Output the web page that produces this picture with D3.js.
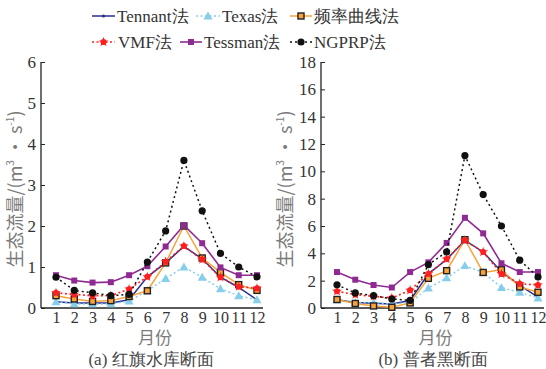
<!DOCTYPE html>
<html><head><meta charset="utf-8">
<script src="https://cdn.jsdelivr.net/npm/d3@7/dist/d3.min.js"></script>
<style>body{margin:0;background:#fff}svg{display:block}
.serif{font-family:"Liberation Serif","Times New Roman","DejaVu Serif",serif}
.sans{font-family:"Noto Sans CJK SC","Noto Sans",sans-serif}
</style>
</head><body>
<svg id="c" width="546" height="369"></svg>
<script>
const months = [1,2,3,4,5,6,7,8,9,10,11,12];
const seriesNames = ["Tennant法","Texas法","频率曲线法","VMF法","Tessman法","NGPRP法"];
// (a) 红旗水库断面
const aTennant = [0.15,0.12,0.12,0.12,0.2,0.76,1.1,1.5,1.2,0.75,0.5,0.2];
const aTexas   = [0.15,0.1,0.1,0.1,0.17,0.42,0.72,1.0,0.75,0.47,0.3,0.2];
const aFreq    = [0.3,0.22,0.16,0.18,0.28,0.42,1.1,2.0,1.22,0.87,0.57,0.43];
const aVMF     = [0.37,0.33,0.3,0.3,0.46,0.76,1.13,1.51,1.18,0.75,0.52,0.48];
const aTessman = [0.8,0.67,0.62,0.63,0.8,1.02,1.5,2.02,1.58,0.99,0.8,0.8];
const aNGPRP   = [0.75,0.43,0.37,0.3,0.33,1.12,1.88,3.6,2.37,1.33,1.0,0.76];
// (b) 普者黑断面
const bTennant = [0.6,0.4,0.35,0.3,0.55,2.5,3.55,4.95,4.1,2.65,1.65,0.8];
const bTexas   = [0.6,0.4,0.4,0.3,0.4,1.46,2.2,3.1,2.6,1.49,1.15,0.73];
const bFreq    = [0.62,0.33,0.15,0.05,0.37,2.17,2.73,5.0,2.6,2.8,1.54,1.15];
const bVMF     = [1.22,0.98,0.85,0.73,1.3,2.5,3.58,4.95,4.1,2.49,1.78,1.68];
const bTessman = [2.63,2.07,1.68,1.5,2.63,3.34,4.76,6.6,5.46,3.27,2.63,2.63];
const bNGPRP   = [1.7,1.1,0.9,0.66,0.56,3.17,4.1,11.15,8.3,6.0,3.5,2.27];
const aTicks = [0,1,2,3,4,5,6];
const bTicks = [0,2,4,6,8,10,12,14,16,18];
const xTickLabels = ["1","2","3","4","5","6","7","8","9","10","11","12"];

const styles = [
  {color:"#2b2f8f", dash:null, marker:"dot", width:1.5},
  {color:"#87ceeb", dash:"2,2.5", marker:"tri", width:1.5},
  {color:"#f8a23a", dash:null, marker:"sq", width:1.5},
  {color:"#ff1f1f", dash:"2,2.5", marker:"vmf", width:1.6},
  {color:"#8e2a92", dash:null, marker:"psq", width:1.6},
  {color:"#111111", dash:"2,3", marker:"circ", width:1.5}
];

const svg = d3.select("#c");

function drawMarker(g, type, x, y, color){
  if(type==="dot"){ g.append("circle").attr("cx",x).attr("cy",y).attr("r",1.6).attr("fill",color); }
  else if(type==="tri"){ g.append("path").attr("transform",`translate(${x},${y+0.8})`).attr("d",d3.symbol(d3.symbolTriangle,36)()).attr("fill",color); }
  else if(type==="sq"){ g.append("rect").attr("x",x-3).attr("y",y-3).attr("width",6).attr("height",6).attr("fill","#f8a23a").attr("stroke","#222").attr("stroke-width",1.4); }
  else if(type==="vmf"){ g.append("path").attr("transform",`translate(${x},${y})`).attr("d",d3.symbol(d3.symbolStar,30)()).attr("fill",color);
                         g.append("circle").attr("cx",x).attr("cy",y).attr("r",3).attr("fill",color); }
  else if(type==="psq"){ g.append("rect").attr("x",x-3).attr("y",y-3).attr("width",6).attr("height",6).attr("fill",color); }
  else if(type==="circ"){ g.append("circle").attr("cx",x).attr("cy",y).attr("r",3.6).attr("fill",color); }
}

function panel(opts){
  const {x0,xEnd,xFirst,xLast,yTop,yBot,yMax,ticks,data,ylabX,caption,capX} = opts;
  const x = d3.scaleLinear().domain([1,12]).range([xFirst,xLast]);
  const y = d3.scaleLinear().domain([0,yMax]).range([yBot,yTop]);
  const g = svg.append("g");
  const ya = g.append("g").attr("transform",`translate(${x0},0)`)
    .call(d3.axisLeft(y).tickValues(ticks).tickSize(-4).tickPadding(5).tickFormat(d3.format("d")));
  ya.select(".domain").attr("d",`M0,${yTop}V${yBot}`);
  const xa = g.append("g").attr("transform",`translate(0,${yBot})`)
    .call(d3.axisBottom(x).tickValues(months).tickSize(0).tickPadding(3).tickFormat((d,i)=>xTickLabels[i]));
  xa.select(".domain").attr("d",`M${x0},0H${xEnd}`);
  g.selectAll(".domain").attr("stroke","#222").attr("stroke-width",1.3);
  g.selectAll(".tick line").attr("stroke","#222");
  g.selectAll(".tick text").attr("class","serif").attr("font-family",null).style("font-size","17px").attr("fill","#333");
  xa.selectAll(".tick text").style("font-size","16px").attr("dy","0.72em");
  const line = d3.line().x((d,i)=>x(months[i])).y(d=>y(d));
  data.forEach((vals,si)=>{
    const st = styles[si];
    const sg = g.append("g");
    sg.append("path").attr("d",line(vals)).attr("fill","none").attr("stroke",st.color)
      .attr("stroke-width",st.width).attr("stroke-dasharray",st.dash);
    vals.forEach((v,i)=>drawMarker(sg, st.marker, x(months[i]), y(v), st.color));
  });
  const yl = g.append("text").attr("class","sans").attr("transform",`translate(${ylabX},${(yTop+yBot)/2+4}) rotate(-90)`)
    .attr("text-anchor","middle").style("font-size","18px").attr("fill","#7a7a7a")
    .attr("dominant-baseline","middle");
  yl.append("tspan").text("生态流量/(m");
  yl.append("tspan").style("font-size","10px").attr("baseline-shift","55%").text("3");
  yl.append("tspan").text(" · s");
  yl.append("tspan").style("font-size","10px").attr("baseline-shift","55%").text("-1");
  yl.append("tspan").text(")");
  g.append("text").attr("class","sans").attr("x",(x0+xEnd)/2+3).attr("y",344).attr("text-anchor","middle")
    .style("font-size","17px").attr("fill","#7a7a7a").text("月份");
  g.append("text").attr("class","serif").attr("x",capX).attr("y",365).attr("text-anchor","middle")
    .style("font-size","17px").attr("fill","#444").text(caption);
}

panel({x0:41,xEnd:263,xFirst:56,xLast:257,yTop:62,yBot:308,yMax:6,ticks:aTicks,
  data:[aTennant,aTexas,aFreq,aVMF,aTessman,aNGPRP],ylabX:17,caption:"(a) 红旗水库断面",capX:151});
panel({x0:321,xEnd:544,xFirst:337,xLast:538,yTop:62,yBot:308,yMax:18,ticks:bTicks,
  data:[bTennant,bTexas,bFreq,bVMF,bTessman,bNGPRP],ylabX:287,caption:"(b) 普者黑断面",capX:433});

const legendPos = [
  {lx:92,rx:115,tx:117,y:16},{lx:196,rx:220,tx:222,y:16},{lx:290,rx:312,tx:314,y:16},
  {lx:92,rx:115,tx:118,y:42},{lx:180,rx:202,tx:204,y:42},{lx:290,rx:312,tx:314,y:42}
];
const lg = svg.append("g");
seriesNames.forEach((name,i)=>{
  const p = legendPos[i], st = styles[i];
  lg.append("line").attr("x1",p.lx).attr("x2",p.rx).attr("y1",p.y).attr("y2",p.y)
    .attr("stroke",st.color).attr("stroke-width",st.width).attr("stroke-dasharray",st.dash);
  drawMarker(lg, st.marker, (p.lx+p.rx)/2, p.y, st.color);
  lg.append("text").attr("class","serif").attr("x",p.tx).attr("y",p.y+6).style("font-size","17px")
    .attr("fill","#333").text(name);
});
</script>
</body></html>
